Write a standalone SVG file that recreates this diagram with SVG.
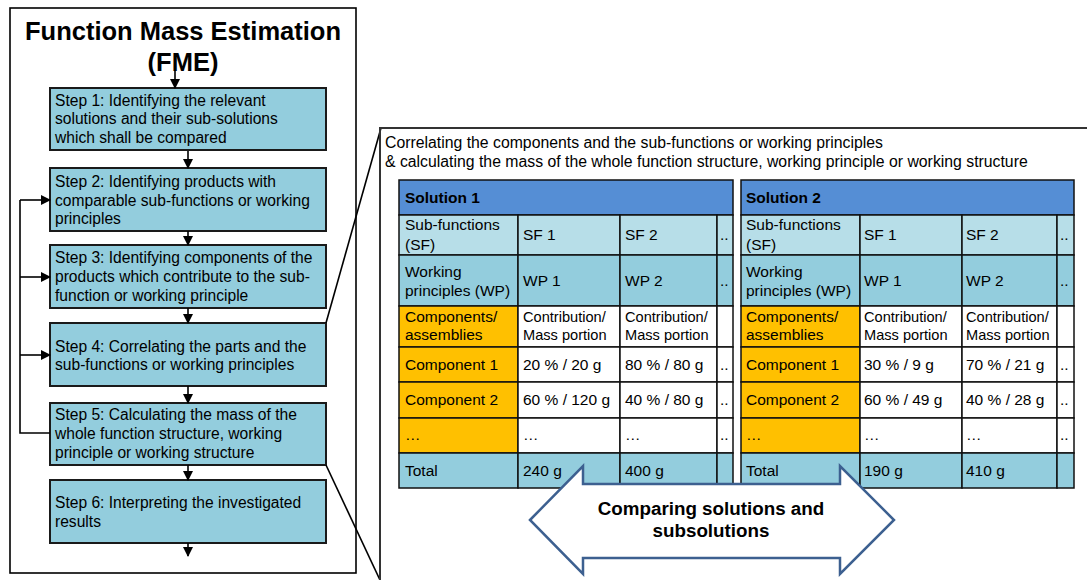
<svg xmlns="http://www.w3.org/2000/svg" width="1087" height="580" viewBox="0 0 1087 580">
<defs>
<marker id="ah" markerWidth="10" markerHeight="10" refX="9" refY="5" orient="auto" markerUnits="userSpaceOnUse">
<path d="M0,0 L10,5 L0,10 z" fill="#000"/>
</marker>
<style>
text{font-family:"Liberation Sans",Arial,sans-serif;fill:#000}
.step{fill:#93CDDD;stroke:#1a1a1a;stroke-width:2}
.st{font-size:15.6px}
.title{font-size:25.5px;font-weight:bold}
.ln{stroke:#000;stroke-width:1.6;fill:none}
.c{font-size:15.8px}
.t{font-size:15.5px}
.s{font-size:14.6px}
.cell{stroke:#111;stroke-width:1.5}
.hd{fill:#558ED5}
.sf{fill:#B7DEE8}
.wp{fill:#93CDDD}
.or{fill:#FFC000}
.wh{fill:#fff}
</style>
</defs>
<rect width="1087" height="580" fill="#fff"/>

<g id="fme-frame">
<rect x="10" y="8" width="346" height="565" fill="none" stroke="#000" stroke-width="1.6"/>
<text class="title" x="183" y="40" text-anchor="middle">Function Mass Estimation</text>
<text class="title" x="183" y="71" text-anchor="middle">(FME)</text>
</g>

<g id="step1"><rect class="step" x="50" y="88" width="276" height="62"/>
<text class="st" x="55" y="106">Step 1: Identifying the relevant</text>
<text class="st" x="55" y="124">solutions and their sub-solutions</text>
<text class="st" x="55" y="143">which shall be compared</text></g>

<g id="step2"><rect class="step" x="50" y="168" width="276" height="63"/>
<text class="st" x="55" y="187">Step 2: Identifying products with</text>
<text class="st" x="55" y="206">comparable sub-functions or working</text>
<text class="st" x="55" y="224">principles</text></g>

<g id="step3"><rect class="step" x="50" y="245" width="276" height="63"/>
<text class="st" x="55" y="263">Step 3: Identifying components of the</text>
<text class="st" x="55" y="282">products which contribute to the sub-</text>
<text class="st" x="55" y="301">function or working principle</text></g>

<g id="step4"><rect class="step" x="50" y="323" width="276" height="63"/>
<text class="st" x="55" y="352">Step 4: Correlating the parts and the</text>
<text class="st" x="55" y="370">sub-functions or working principles</text></g>

<g id="step5"><rect class="step" x="50" y="403" width="276" height="62"/>
<text class="st" x="55" y="420">Step 5: Calculating the mass of the</text>
<text class="st" x="55" y="439">whole function structure, working</text>
<text class="st" x="55" y="458">principle or working structure</text></g>

<g id="step6"><rect class="step" x="50" y="480" width="276" height="63"/>
<text class="st" x="55" y="508">Step 6: Interpreting the investigated</text>
<text class="st" x="55" y="527">results</text></g>

<g id="connectors">
<line class="ln" x1="175" y1="70" x2="175" y2="88" marker-end="url(#ah)"/>
<line class="ln" x1="188" y1="151" x2="188" y2="168" marker-end="url(#ah)"/>
<line class="ln" x1="188" y1="231" x2="188" y2="245" marker-end="url(#ah)"/>
<line class="ln" x1="188" y1="308" x2="188" y2="323" marker-end="url(#ah)"/>
<line class="ln" x1="188" y1="386" x2="188" y2="403" marker-end="url(#ah)"/>
<line class="ln" x1="188" y1="465" x2="188" y2="480" marker-end="url(#ah)"/>
<line class="ln" x1="188" y1="543" x2="188" y2="556" marker-end="url(#ah)"/>
<polyline class="ln" points="50,433 20,433 20,200"/>
<line class="ln" x1="20" y1="200" x2="50" y2="200" marker-end="url(#ah)"/>
<line class="ln" x1="20" y1="277" x2="50" y2="277" marker-end="url(#ah)"/>
<line class="ln" x1="20" y1="355" x2="50" y2="355" marker-end="url(#ah)"/>
<line class="ln" x1="326" y1="323" x2="381" y2="128"/>
<line class="ln" x1="326" y1="465" x2="380" y2="580"/>
</g>

<g id="callout">
<polyline points="380,580 380,128 1087,128" fill="none" stroke="#333" stroke-width="2"/>
<text class="c" x="385" y="148">Correlating the components and the sub-functions or working principles</text>
<text class="c" x="385" y="167">&amp; calculating the mass of the whole function structure, working principle or working structure</text>
</g>

<g id="table1">
<rect class="cell hd" x="399" y="180" width="334" height="35"/>
<text class="t" x="405" y="203" font-weight="bold">Solution 1</text>
<rect class="cell sf" x="399" y="215" width="119" height="40"/>
<rect class="cell sf" x="518" y="215" width="102" height="40"/>
<rect class="cell sf" x="620" y="215" width="97" height="40"/>
<rect class="cell sf" x="717" y="215" width="16" height="40"/>
<rect class="cell wp" x="399" y="255" width="119" height="51"/>
<rect class="cell wp" x="518" y="255" width="102" height="51"/>
<rect class="cell wp" x="620" y="255" width="97" height="51"/>
<rect class="cell wp" x="717" y="255" width="16" height="51"/>
<rect class="cell or" x="399" y="306" width="119" height="41"/>
<rect class="cell wh" x="518" y="306" width="102" height="41"/>
<rect class="cell wh" x="620" y="306" width="97" height="41"/>
<rect class="cell wh" x="717" y="306" width="16" height="41"/>
<rect class="cell or" x="399" y="347" width="119" height="35"/>
<rect class="cell wh" x="518" y="347" width="102" height="35"/>
<rect class="cell wh" x="620" y="347" width="97" height="35"/>
<rect class="cell wh" x="717" y="347" width="16" height="35"/>
<rect class="cell or" x="399" y="382" width="119" height="36"/>
<rect class="cell wh" x="518" y="382" width="102" height="36"/>
<rect class="cell wh" x="620" y="382" width="97" height="36"/>
<rect class="cell wh" x="717" y="382" width="16" height="36"/>
<rect class="cell or" x="399" y="418" width="119" height="35"/>
<rect class="cell wh" x="518" y="418" width="102" height="35"/>
<rect class="cell wh" x="620" y="418" width="97" height="35"/>
<rect class="cell wh" x="717" y="418" width="16" height="35"/>
<rect class="cell wp" x="399" y="453" width="119" height="35"/>
<rect class="cell wp" x="518" y="453" width="102" height="35"/>
<rect class="cell wp" x="620" y="453" width="97" height="35"/>
<rect class="cell wp" x="717" y="453" width="16" height="35"/>
<text class="t" x="405" y="230">Sub-functions</text>
<text class="t" x="405" y="250">(SF)</text>
<text class="t" x="523" y="240">SF 1</text>
<text class="t" x="625" y="240">SF 2</text>
<text class="t" x="720" y="240">..</text>
<text class="t" x="405" y="277">Working</text>
<text class="t" x="405" y="296">principles (WP)</text>
<text class="t" x="523" y="286">WP 1</text>
<text class="t" x="625" y="286">WP 2</text>
<text class="t" x="720" y="286">..</text>
<text class="t" x="405" y="322">Components/</text>
<text class="t" x="405" y="340">assemblies</text>
<text class="s" x="523" y="322">Contribution/</text>
<text class="s" x="523" y="340">Mass portion</text>
<text class="s" x="625" y="322">Contribution/</text>
<text class="s" x="625" y="340">Mass portion</text>
<text class="t" x="405" y="370">Component 1</text>
<text class="t" x="523" y="370">20 % / 20 g</text>
<text class="t" x="625" y="370">80 % / 80 g</text>
<text class="t" x="720" y="370">..</text>
<text class="t" x="405" y="405">Component 2</text>
<text class="t" x="523" y="405">60 % / 120 g</text>
<text class="t" x="625" y="405">40 % / 80 g</text>
<text class="t" x="720" y="405">..</text>
<text class="t" x="405" y="440">…</text>
<text class="t" x="523" y="440">…</text>
<text class="t" x="625" y="440">…</text>
<text class="t" x="720" y="440">..</text>
<text class="t" x="405" y="476">Total</text>
<text class="t" x="523" y="476">240 g</text>
<text class="t" x="625" y="476">400 g</text>
</g>

<g id="table2">
<rect class="cell hd" x="741" y="180" width="333" height="35"/>
<text class="t" x="746" y="203" font-weight="bold">Solution 2</text>
<rect class="cell sf" x="741" y="215" width="119" height="40"/>
<rect class="cell sf" x="860" y="215" width="102" height="40"/>
<rect class="cell sf" x="962" y="215" width="95" height="40"/>
<rect class="cell sf" x="1057" y="215" width="17" height="40"/>
<rect class="cell wp" x="741" y="255" width="119" height="51"/>
<rect class="cell wp" x="860" y="255" width="102" height="51"/>
<rect class="cell wp" x="962" y="255" width="95" height="51"/>
<rect class="cell wp" x="1057" y="255" width="17" height="51"/>
<rect class="cell or" x="741" y="306" width="119" height="41"/>
<rect class="cell wh" x="860" y="306" width="102" height="41"/>
<rect class="cell wh" x="962" y="306" width="95" height="41"/>
<rect class="cell wh" x="1057" y="306" width="17" height="41"/>
<rect class="cell or" x="741" y="347" width="119" height="35"/>
<rect class="cell wh" x="860" y="347" width="102" height="35"/>
<rect class="cell wh" x="962" y="347" width="95" height="35"/>
<rect class="cell wh" x="1057" y="347" width="17" height="35"/>
<rect class="cell or" x="741" y="382" width="119" height="36"/>
<rect class="cell wh" x="860" y="382" width="102" height="36"/>
<rect class="cell wh" x="962" y="382" width="95" height="36"/>
<rect class="cell wh" x="1057" y="382" width="17" height="36"/>
<rect class="cell or" x="741" y="418" width="119" height="35"/>
<rect class="cell wh" x="860" y="418" width="102" height="35"/>
<rect class="cell wh" x="962" y="418" width="95" height="35"/>
<rect class="cell wh" x="1057" y="418" width="17" height="35"/>
<rect class="cell wp" x="741" y="453" width="119" height="35"/>
<rect class="cell wp" x="860" y="453" width="102" height="35"/>
<rect class="cell wp" x="962" y="453" width="95" height="35"/>
<rect class="cell wp" x="1057" y="453" width="17" height="35"/>
<text class="t" x="746" y="230">Sub-functions</text>
<text class="t" x="746" y="250">(SF)</text>
<text class="t" x="864" y="240">SF 1</text>
<text class="t" x="966" y="240">SF 2</text>
<text class="t" x="1060" y="240">..</text>
<text class="t" x="746" y="277">Working</text>
<text class="t" x="746" y="296">principles (WP)</text>
<text class="t" x="864" y="286">WP 1</text>
<text class="t" x="966" y="286">WP 2</text>
<text class="t" x="1060" y="286">..</text>
<text class="t" x="746" y="322">Components/</text>
<text class="t" x="746" y="340">assemblies</text>
<text class="s" x="864" y="322">Contribution/</text>
<text class="s" x="864" y="340">Mass portion</text>
<text class="s" x="966" y="322">Contribution/</text>
<text class="s" x="966" y="340">Mass portion</text>
<text class="t" x="746" y="370">Component 1</text>
<text class="t" x="864" y="370">30 % / 9 g</text>
<text class="t" x="966" y="370">70 % / 21 g</text>
<text class="t" x="1060" y="370">..</text>
<text class="t" x="746" y="405">Component 2</text>
<text class="t" x="864" y="405">60 % / 49 g</text>
<text class="t" x="966" y="405">40 % / 28 g</text>
<text class="t" x="1060" y="405">..</text>
<text class="t" x="746" y="440">…</text>
<text class="t" x="864" y="440">…</text>
<text class="t" x="966" y="440">…</text>
<text class="t" x="1060" y="440">..</text>
<text class="t" x="746" y="476">Total</text>
<text class="t" x="864" y="476">190 g</text>
<text class="t" x="966" y="476">410 g</text>
</g>

<g id="compare-arrow">
<polygon points="530,520 583,466 583,484 840,484 840,466 894,520 840,574 840,558 583,558 583,574" fill="#fff" stroke="#3D6090" stroke-width="2.5" stroke-linejoin="miter"/>
<text x="711" y="515" text-anchor="middle" font-size="18.8" font-weight="bold">Comparing solutions and</text>
<text x="711" y="537" text-anchor="middle" font-size="18.8" font-weight="bold">subsolutions</text>
</g>
</svg>
